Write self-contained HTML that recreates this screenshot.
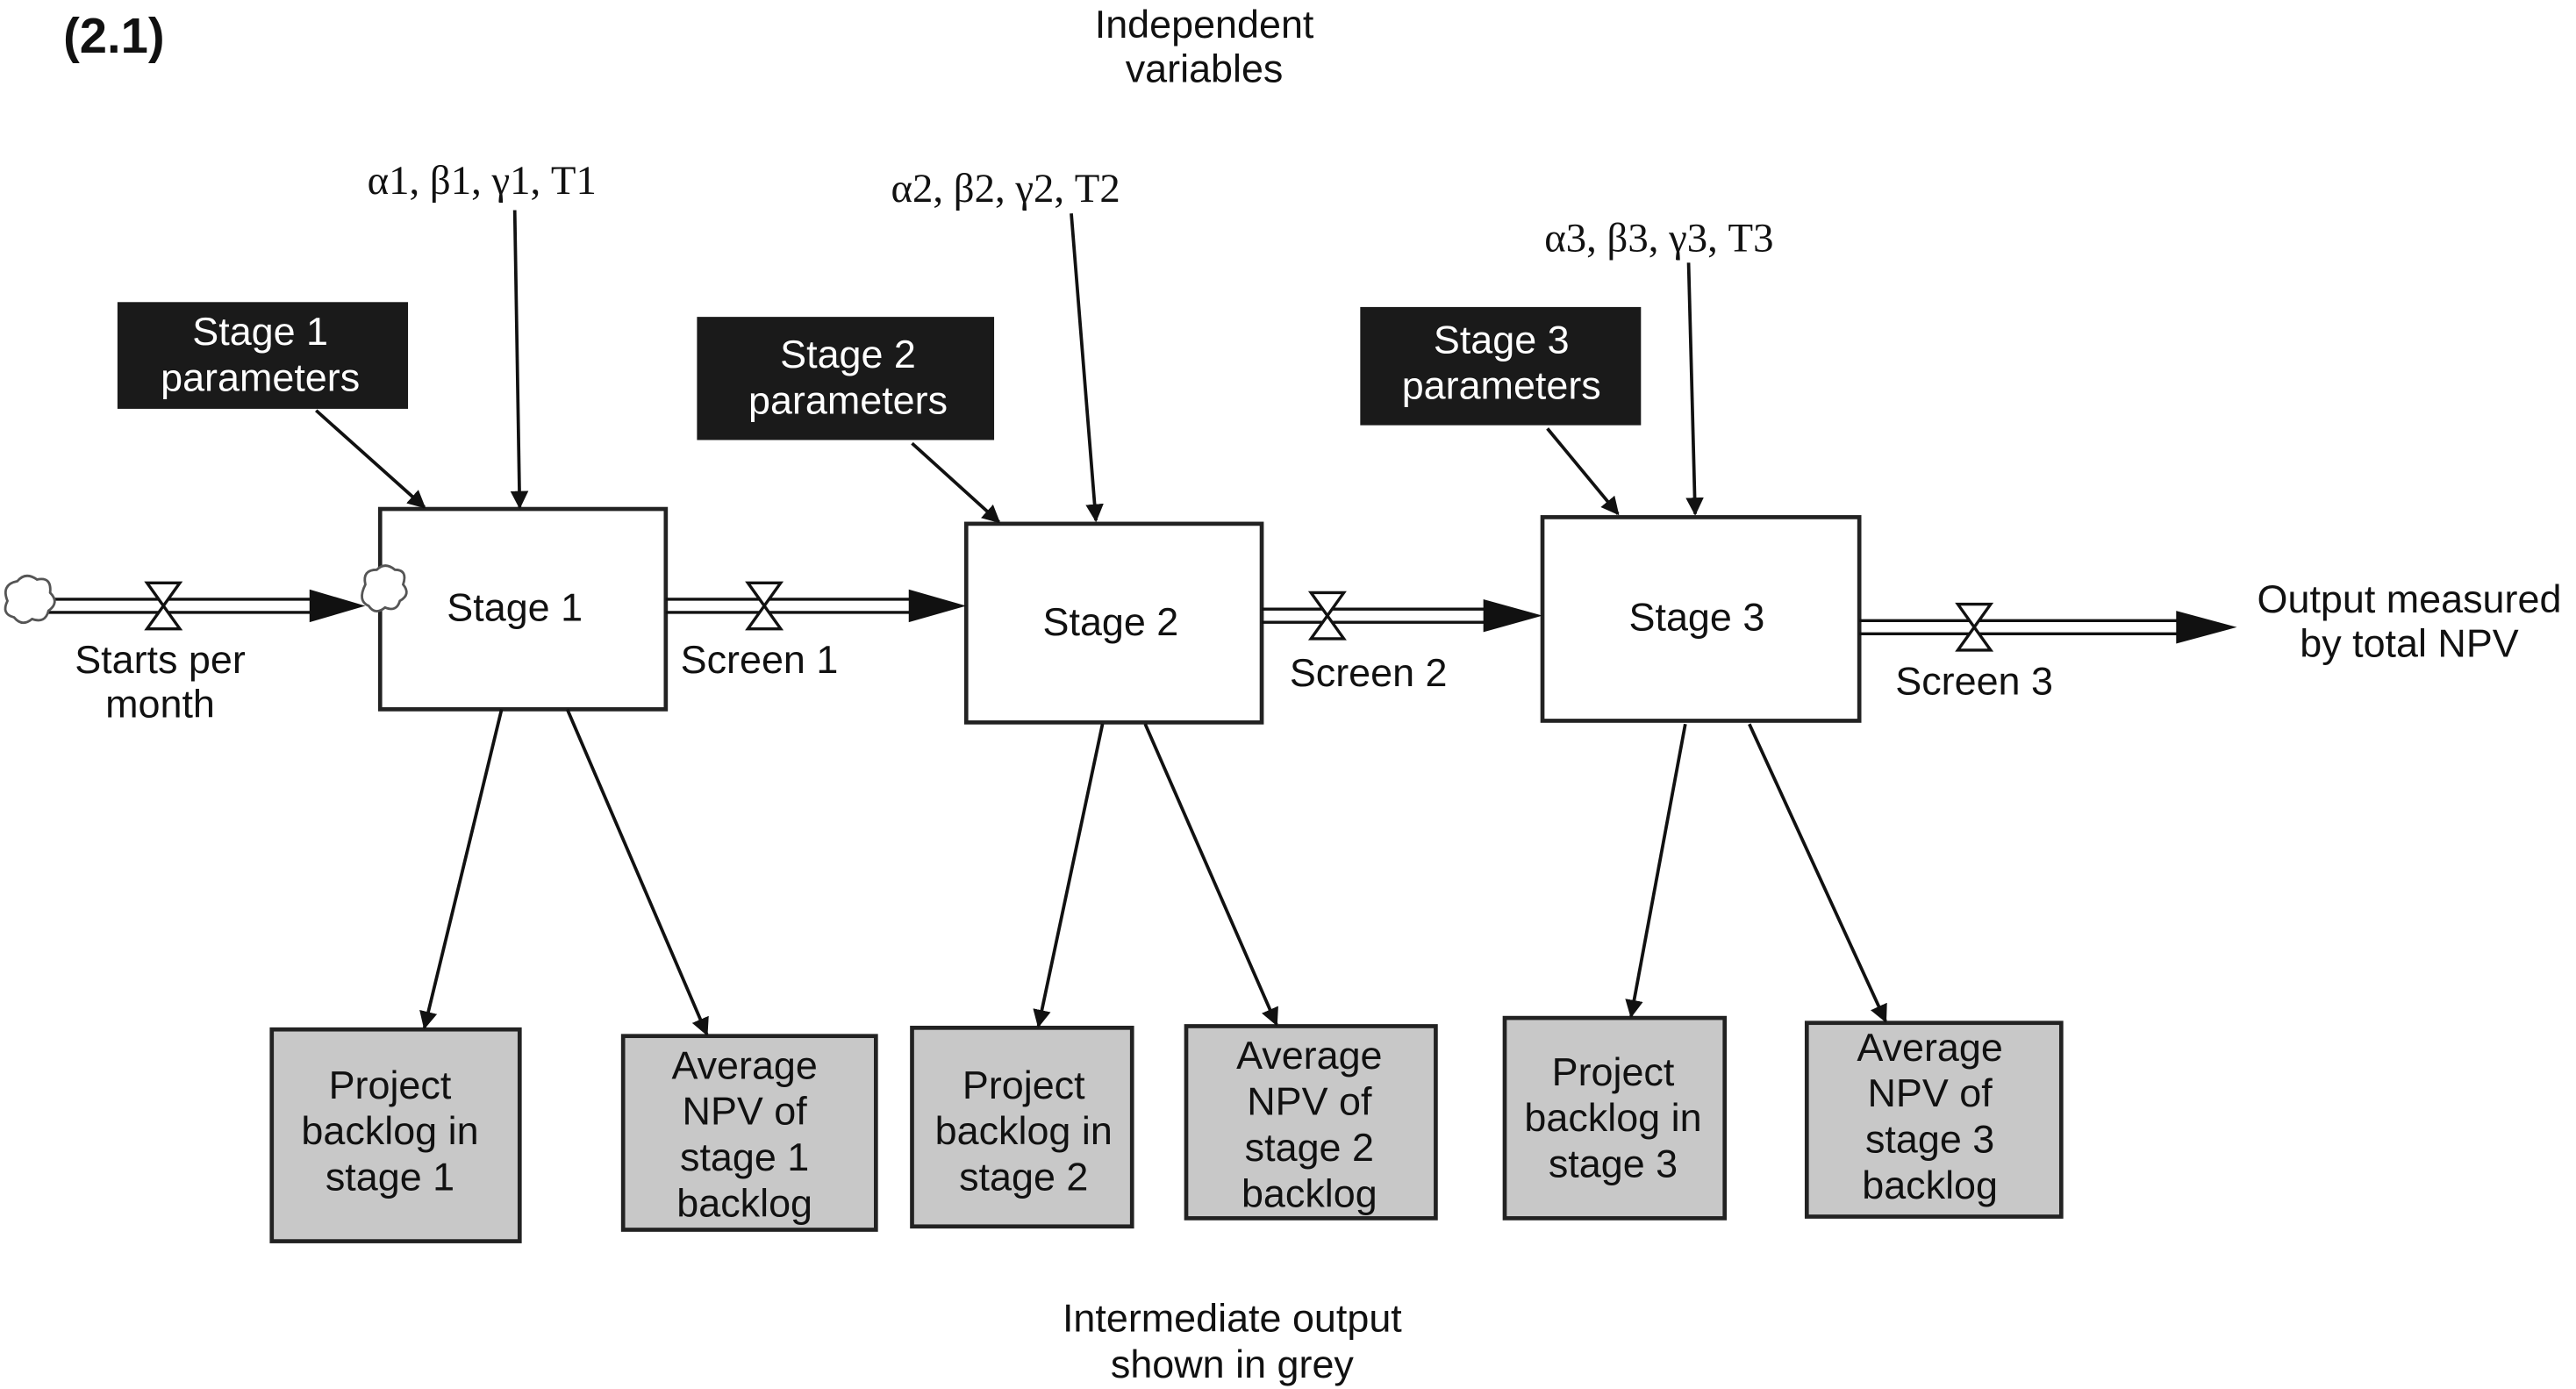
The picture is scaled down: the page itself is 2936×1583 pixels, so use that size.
<!DOCTYPE html>
<html><head><meta charset="utf-8"><style>
html,body{margin:0;padding:0;background:#fff;}
svg{display:block;}
text{font-family:"Liberation Sans",Arial,sans-serif;fill:#111;}
text.w{fill:#fff;}
</style></head><body>
<svg width="2936" height="1583" viewBox="0 0 1568 846" xmlns="http://www.w3.org/2000/svg">
<defs>
<marker id="a" viewBox="0 0 10 10" refX="9" refY="5" markerWidth="11" markerHeight="11" markerUnits="userSpaceOnUse" orient="auto"><path d="M0,0 L10,5 L0,10 z" fill="#111"/></marker>
</defs>
<text x="38" y="32" font-size="30" font-weight="bold">(2.1)</text>
<g font-size="24" text-anchor="middle">
<text x="733" y="23">Independent</text><text x="733" y="50">variables</text>
<text x="97" y="410">Starts per</text><text x="97" y="437">month</text>
<text x="462" y="410">Screen 1</text>
<text x="833" y="418">Screen 2</text>
<text x="1202" y="423">Screen 3</text>
<text x="1467" y="373">Output measured</text><text x="1467" y="400">by total NPV</text>
<text x="750" y="811">Intermediate output</text><text x="750" y="839">shown in grey</text>
</g>
<g font-size="25" text-anchor="middle" style="font-family:'Liberation Serif',serif">
<text x="293" y="118" style="font-family:'Liberation Serif',serif">α1, β1, γ1, T1</text>
<text x="612" y="123" style="font-family:'Liberation Serif',serif">α2, β2, γ2, T2</text>
<text x="1010" y="153" style="font-family:'Liberation Serif',serif">α3, β3, γ3, T3</text>
</g>
<rect x="71" y="184" width="177" height="65" fill="#1a1a1a"/>
<rect x="424" y="193" width="181" height="75" fill="#1a1a1a"/>
<rect x="828" y="187" width="171" height="72" fill="#1a1a1a"/>
<g font-size="24" text-anchor="middle">
<text class="w" x="158" y="210">Stage 1</text><text class="w" x="158" y="238">parameters</text>
<text class="w" x="516" y="224">Stage 2</text><text class="w" x="516" y="252">parameters</text>
<text class="w" x="914" y="215">Stage 3</text><text class="w" x="914" y="243">parameters</text>
</g>
<g fill="#fff" stroke="#222" stroke-width="2.5">
<rect x="231" y="310" width="174" height="122"/>
<rect x="588" y="319" width="180" height="121"/>
<rect x="939" y="315" width="193" height="124"/>
</g>
<g font-size="24" text-anchor="middle">
<text x="313" y="378">Stage 1</text><text x="676" y="387">Stage 2</text><text x="1033" y="384">Stage 3</text>
</g>
<g fill="#c8c8c8" stroke="#222" stroke-width="2.5">
<rect x="165" y="627" width="151" height="129"/>
<rect x="379" y="631" width="154" height="118"/>
<rect x="555" y="626" width="134" height="121"/>
<rect x="722" y="625" width="152" height="117"/>
<rect x="916" y="620" width="134" height="122"/>
<rect x="1100" y="623" width="155" height="118"/>
</g>
<g font-size="24" text-anchor="middle">
<text x="237" y="669">Project</text><text x="237" y="697">backlog in</text><text x="237" y="725">stage 1</text>
<text x="453" y="657">Average</text><text x="453" y="685">NPV of</text><text x="453" y="713">stage 1</text><text x="453" y="741">backlog</text>
<text x="623" y="669">Project</text><text x="623" y="697">backlog in</text><text x="623" y="725">stage 2</text>
<text x="797" y="651">Average</text><text x="797" y="679">NPV of</text><text x="797" y="707">stage 2</text><text x="797" y="735">backlog</text>
<text x="982" y="661">Project</text><text x="982" y="689">backlog in</text><text x="982" y="717">stage 3</text>
<text x="1175" y="646">Average</text><text x="1175" y="674">NPV of</text><text x="1175" y="702">stage 3</text><text x="1175" y="730">backlog</text>
</g>
<g stroke="#111" stroke-width="2" fill="none" marker-end="url(#a)">
<line x1="313" y1="128" x2="316" y2="309"/>
<line x1="652" y1="130" x2="667" y2="317"/>
<line x1="1028" y1="160" x2="1032" y2="313"/>
<line x1="192" y1="250" x2="258" y2="309"/>
<line x1="555" y1="270" x2="608" y2="318"/>
<line x1="942" y1="261" x2="985" y2="313"/>
<line x1="305" y1="432" x2="258" y2="626"/>
<line x1="345" y1="432" x2="430" y2="630"/>
<line x1="671" y1="441" x2="632" y2="625"/>
<line x1="697" y1="441" x2="777" y2="624"/>
<line x1="1026" y1="441" x2="993" y2="619"/>
<line x1="1065" y1="441" x2="1148" y2="622"/>
</g>
<g stroke="#111" stroke-width="1.8">
<line x1="25" y1="365" x2="192" y2="365"/><line x1="25" y1="373" x2="192" y2="373"/>
<line x1="405" y1="365" x2="556" y2="365"/><line x1="405" y1="373" x2="556" y2="373"/>
<line x1="768" y1="371" x2="906" y2="371"/><line x1="768" y1="379" x2="906" y2="379"/>
<line x1="1132" y1="378" x2="1328" y2="378"/><line x1="1132" y1="386" x2="1328" y2="386"/>
</g>
<g fill="#111">
<path d="M188,359 L222,369 L188,379 z"/>
<path d="M553,359 L588,369 L553,379 z"/>
<path d="M903,365 L939,375 L903,385 z"/>
<path d="M1325,372 L1362,382 L1325,392 z"/>
</g>
<g fill="#fff" stroke="#111" stroke-width="1.8">
<path d="M89,355 L109,355 L89,383 L109,383 z"/>
<path d="M455,355 L475,355 L455,383 L475,383 z"/>
<path d="M798,361 L818,361 L798,389 L818,389 z"/>
<path d="M1192,368 L1212,368 L1192,396 L1212,396 z"/>
</g>
<g fill="#fff" stroke="#555" stroke-width="1.5">
<path d="M4,366 q-4,-10 6,-12 q5,-6 12,-1 q9,-2 8,8 q6,6 -1,11 q-2,8 -10,5 q-6,5 -11,-1 q-8,-2 -4,-10z"/>
<path d="M222,356 q-2,-9 7,-9 q5,-5 11,0 q8,0 5,9 q5,6 -2,10 q-2,7 -9,4 q-6,5 -10,-1 q-7,-3 -2,-13z"/>
</g>
</svg>
</body></html>
